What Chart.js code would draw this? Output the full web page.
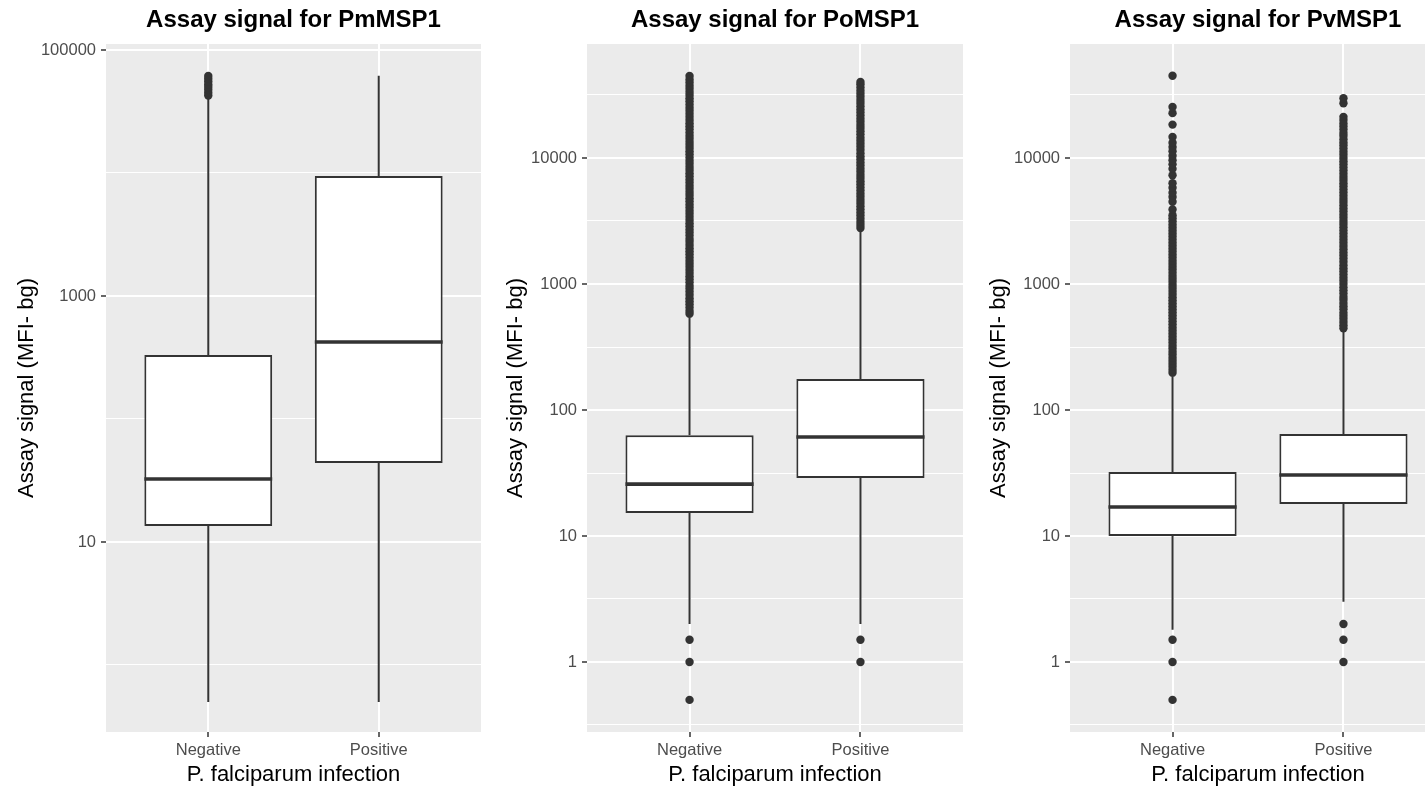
<!DOCTYPE html>
<html>
<head>
<meta charset="utf-8">
<script src="https://cdn.jsdelivr.net/npm/chart.js@4.4.1/dist/chart.umd.min.js"></script>
<style>
  html, body { margin: 0; padding: 0; background: #ffffff; overflow: hidden; }
  #wrap { position: relative; width: 1425px; height: 786px; overflow: hidden; }
  canvas { position: absolute; top: 0; }
</style>
</head>
<body>
<div id="wrap">
  <canvas id="pm" width="489" height="786" style="left:0px"></canvas>
  <canvas id="po" width="483" height="786" style="left:489px"></canvas>
  <canvas id="pv" width="483" height="786" style="left:972px"></canvas>
</div>
<script>
// ---- groups on the x axis ----
const categories = ['Negative', 'Positive'];

// ---- PmMSP1 box statistics (Negative, Positive) ----
const pmLow    = [0.5, 0.5];
const pmQ1     = [13.5, 43.9];
const pmMedian = [32.5, 423];
const pmQ3     = [331, 9460];
const pmHigh   = [40000, 61800];
const pmOutNeg = [42700, 45000, 47500, 50000, 52500, 55500, 58500, 61500];
const pmOutPos = [];

// ---- PoMSP1 box statistics ----
const poLow    = [2, 2];
const poQ1     = [15.2, 28.9];
const poMedian = [25.8, 61.1];
const poQ3     = [63.0, 176];
const poHigh   = [540, 2620];
const poOutNeg = [0.5, 1, 1.5,
  580, 610, 650, 690, 730, 770, 820, 870, 920, 970, 1030, 1090, 1150, 1220, 1290, 1370,
  1450, 1530, 1620, 1720, 1820, 1920, 2040, 2160, 2280, 2420, 2560, 2710, 2870, 3040,
  3220, 3410, 3610, 3820, 4040, 4280, 4530, 4800, 5080, 5380, 5700, 6030, 6380, 6760,
  7160, 7580, 8020, 8490, 8990, 9520, 10100, 10700, 11300, 12000, 12700, 13400, 14200,
  15000, 15900, 16900, 17900, 18900, 20000, 21200, 22400, 23700, 25100, 26600, 28200,
  29800, 31600, 33400, 35400, 37500, 39700, 42000, 44700];
const poOutPos = [1, 1.5,
  2780, 2940, 3110, 3300, 3490, 3700, 3910, 4140, 4390, 4650, 4920, 5210, 5510, 5840,
  6180, 6540, 6930, 7340, 7770, 8220, 8710, 9220, 9760, 10300, 10900, 11600, 12300,
  13000, 13700, 14500, 15400, 16300, 17300, 18300, 19400, 20500, 21700, 23000, 24300,
  25800, 27300, 28900, 30600, 32400, 34200, 36300, 38400, 40100];

// ---- PvMSP1 box statistics ----
const pvLow    = [1.8, 3];
const pvQ1     = [10.0, 17.9];
const pvMedian = [17.0, 30.5];
const pvQ3     = [32.2, 64.5];
const pvHigh   = [183, 416];
const pvOutNeg = [0.5, 1, 1.5,
  197, 208, 220, 233, 246, 260, 275, 290, 307, 324, 343, 362, 383, 405, 428, 452, 478,
  505, 534, 564, 596, 630, 666, 704, 744, 786, 831, 878, 928, 981, 1040, 1100, 1160,
  1230, 1300, 1370, 1450, 1530, 1620, 1710, 1810, 1910, 2020, 2130, 2250, 2380, 2520,
  2660, 2810, 2970, 3140, 3320, 3510, 3900, 4500, 4900, 5300, 5800, 6300, 7300, 8200,
  8900, 9600, 10400, 11300, 12200, 13200, 14700, 18400, 22700, 25400, 45000];
const pvOutPos = [1, 1.5, 2,
  445, 470, 500, 530, 560, 590, 630, 665, 705, 750, 790, 840, 890, 940, 1000, 1060,
  1120, 1190, 1260, 1330, 1410, 1500, 1590, 1680, 1780, 1890, 2000, 2120, 2240, 2370,
  2510, 2660, 2820, 2990, 3160, 3350, 3550, 3760, 3980, 4220, 4470, 4730, 5010, 5310,
  5620, 5960, 6310, 6680, 7080, 7500, 7940, 8410, 8910, 9440, 10000, 10600, 11200,
  11900, 12600, 13300, 14100, 15000, 15800, 16800, 17800, 18800, 20000, 21200,
  27200, 29800];

// ---- y axis breaks ----
const pmMajorTicks = [10, 1000, 100000];
const pmMinorTicks = [1, 100, 10000];
const majorTicks   = [1, 10, 100, 1000, 10000];
const minorTicks   = [0.316, 3.16, 31.6, 316, 3162, 31623];

// ---- y axis limits ----
const pmRange    = [0.285, 111900];
const otherRange = [0.278, 80300];

const FONT = '"Liberation Sans", Arial, Helvetica, sans-serif';
const INK = '#333333';
const boxWidth = 0.75;

const panelBackground = {
  id: 'panelBackground',
  beforeDraw(chart) {
    const { ctx, chartArea: a } = chart;
    ctx.save();
    ctx.fillStyle = '#EBEBEB';
    ctx.fillRect(a.left, a.top, a.width, a.height);
    ctx.restore();
  }
};

function makePanel(id, title, s, majors, minors, range, yWidth, rightPad) {
  const half = boxWidth / 2;
  const boxes = categories.map((c, i) => ({ x: i + 1, y: [s.q1[i], s.q3[i]] }));
  const medians = categories.flatMap((c, i) => [
    { x: i + 1 - half, y: s.med[i] },
    { x: i + 1 + half, y: s.med[i] },
    { x: i + 1 + half, y: null }
  ]);
  const whiskers = categories.flatMap((c, i) => [
    { x: i + 1, y: s.low[i] }, { x: i + 1, y: s.q1[i] }, { x: i + 1, y: null },
    { x: i + 1, y: s.q3[i] }, { x: i + 1, y: s.high[i] }, { x: i + 1, y: null }
  ]);
  const outliers = [
    ...s.outNeg.map(v => ({ x: 1, y: v })),
    ...s.outPos.map(v => ({ x: 2, y: v }))
  ];
  const isMajor = v => majors.includes(v);
  const allTicks = [...majors, ...minors].sort((a, b) => a - b);

  new Chart(document.getElementById(id), {
    type: 'bar',
    data: {
      datasets: [
        {
          type: 'line', data: medians, order: 0,
          borderColor: INK, borderWidth: 3.6, pointRadius: 0, borderCapStyle: 'butt',
          spanGaps: false, fill: false
        },
        {
          type: 'bar', data: boxes, order: 1,
          backgroundColor: '#FFFFFF', borderColor: INK, borderWidth: 2,
          borderSkipped: false, categoryPercentage: 1, barPercentage: boxWidth
        },
        {
          type: 'line', data: whiskers, order: 2,
          borderColor: INK, borderWidth: 2, pointRadius: 0, borderCapStyle: 'butt',
          spanGaps: false, fill: false
        },
        {
          type: 'line', data: outliers, order: 3, showLine: false,
          pointRadius: 4.2, pointBackgroundColor: INK, pointBorderWidth: 0,
          pointHoverRadius: 4.2
        }
      ]
    },
    options: {
      responsive: false,
      animation: false,
      devicePixelRatio: 1,
      events: [],
      layout: { padding: { left: 0, right: rightPad, top: 0, bottom: 0 } },
      plugins: {
        legend: { display: false },
        tooltip: { enabled: false },
        title: {
          display: true, text: title, fullSize: false, color: '#000000',
          font: { family: FONT, size: 24, weight: 'bold' },
          padding: { top: 6.4, bottom: 8.8 }
        }
      },
      scales: {
        x: {
          type: 'linear', min: 0.4, max: 2.6, bounds: 'data', offset: false,
          afterFit: sc => { sc.height = 54; },
          afterBuildTicks: sc => { sc.ticks = categories.map((c, i) => ({ value: i + 1 })); },
          ticks: {
            autoSkip: false, maxRotation: 0, padding: 4, color: '#4D4D4D',
            font: { family: FONT, size: 16.5 },
            callback: v => categories[Math.round(v) - 1]
          },
          grid: {
            offset: false, color: '#FFFFFF', lineWidth: 2,
            tickColor: INK, tickLength: 5, tickWidth: 1.5
          },
          border: { display: false },
          title: {
            display: true, text: 'P. falciparum infection', color: '#000000',
            font: { family: FONT, size: 22, lineHeight: 1.0 }, padding: { top: 0, bottom: 0 }
          }
        },
        y: {
          type: 'logarithmic', min: range[0], max: range[1], bounds: 'data', beginAtZero: false,
          afterFit: sc => { sc.width = yWidth; },
          afterBuildTicks: sc => { sc.ticks = allTicks.map(v => ({ value: v })); },
          ticks: {
            autoSkip: false, padding: 5, color: '#4D4D4D',
            font: { family: FONT, size: 16.5 },
            callback: v => (isMajor(v) ? String(v) : '')
          },
          grid: {
            color: '#FFFFFF',
            lineWidth: c => (c.tick && isMajor(c.tick.value) ? 2 : 1),
            tickColor: c => (c.tick && isMajor(c.tick.value) ? INK : 'rgba(0,0,0,0)'),
            tickLength: 5, tickWidth: 1.5
          },
          border: { display: false },
          title: {
            display: true, text: 'Assay signal (MFI- bg)', color: '#000000',
            font: { family: FONT, size: 22 }, padding: { top: 14, bottom: 0 }
          }
        }
      }
    },
    plugins: [panelBackground]
  });
}

makePanel('pm', 'Assay signal for PmMSP1',
  { low: pmLow, q1: pmQ1, med: pmMedian, q3: pmQ3, high: pmHigh, outNeg: pmOutNeg, outPos: pmOutPos },
  pmMajorTicks, pmMinorTicks, pmRange, 106, 8);
makePanel('po', 'Assay signal for PoMSP1',
  { low: poLow, q1: poQ1, med: poMedian, q3: poQ3, high: poHigh, outNeg: poOutNeg, outPos: poOutPos },
  majorTicks, minorTicks, otherRange, 98, 9);
makePanel('pv', 'Assay signal for PvMSP1',
  { low: pvLow, q1: pvQ1, med: pvMedian, q3: pvQ3, high: pvHigh, outNeg: pvOutNeg, outPos: pvOutPos },
  majorTicks, minorTicks, otherRange, 98, 9);
</script>
</body>
</html>
